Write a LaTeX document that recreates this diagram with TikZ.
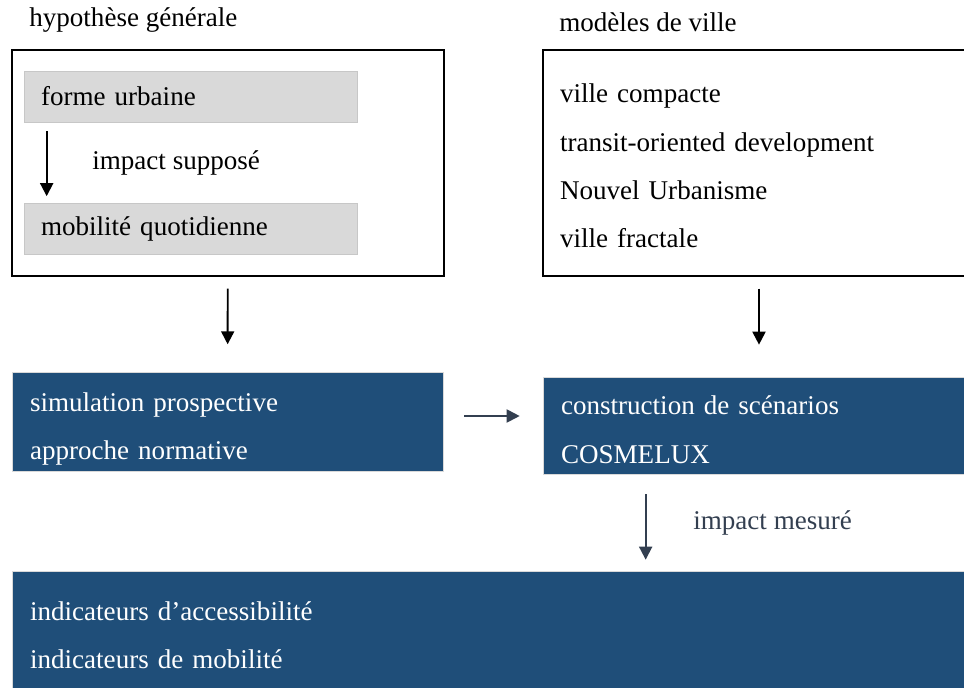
\documentclass[tikz,border=0pt]{standalone}
\usepackage{fontspec}
\setmainfont{Liberation Serif}
\usetikzlibrary{arrows.meta}
\definecolor{boxblue}{HTML}{1F4E79}
\definecolor{boxgrey}{HTML}{D9D9D9}
\definecolor{slate}{HTML}{333F50}

\begin{document}
\begin{tikzpicture}
[
x=0.02cm, y=-0.02cm,
every node/.style={font=\fontsize{15.4}{27.5}\selectfont},
lbl/.style={anchor=west, inner sep=0},
framebox/.style={draw, line width=0.8pt, minimum width=8.64cm, minimum height=4.52cm},
greybox/.style={fill=boxgrey, draw=black!22, line width=0.4pt, text width=5.98cm, inner xsep=0.34cm, minimum height=1.02cm, align=left},
bluebox/.style={fill=boxblue, draw=black!15, line width=0.4pt, text=white, inner xsep=0.36cm, align=left},
arr/.style={line width=1.1pt, -{Triangle[length=0.26cm, width=0.26cm]}},
arrs/.style={arr, draw=slate, fill=slate}
]
\useasboundingbox (0,0) rectangle (964,687);

% hypothese
\node[lbl] (hyptitle) at (29,20) {hypothèse générale};
\node[framebox] (hypo) at (228,163) {};
\node[greybox] (forme) at (190.5,96.5) {forme urbaine};
\node[greybox] (mobil) at (190.5,229) {mobilité quotidienne};
\node[lbl] (suppose) at (92,163) {impact supposé};
\draw[arr] ([shift={(23,9)}]forme.south west) -- ([shift={(23,-7)}]mobil.north west);

% modeles
\node[framebox, text width=7.96cm, inner xsep=0.34cm, align=left, text height=0.5cm] (modeles) at (759,163)
  {ville compacte\\transit-oriented development\\Nouvel Urbanisme\\ville fractale};
\node[lbl] (modtitle) at (559,22) {modèles de ville};

% simulation
\node[bluebox, text width=7.9cm, minimum height=1.96cm, text height=0.66cm] (simul) at (227.5,422)
  {simulation prospective\\approche normative};
\node[bluebox, text width=7.92cm, minimum height=1.94cm, text height=0.54cm] (scen) at (759,425.5)
  {construction de scénarios\\COSMELUX};
\node[bluebox, text width=18.54cm, minimum height=2.58cm] (indic) at (493.5,635.5)
  {indicateurs d’accessibilité\\indicateurs de mobilité};
\node[lbl, text=slate] (mesure) at (693,523) {impact mesuré};

\draw[arr, shorten <=0.24cm, shorten >=0.56cm] (hypo) -- (simul);
\draw[arr, shorten <=0.24cm, shorten >=0.64cm] (modeles) -- (scen);
\draw[arrs, shorten <=0.42cm, shorten >=0.46cm] ([yshift=0.12cm]simul.east) -- ([yshift=0.12cm]simul.east -| scen.west);
\draw[arrs, shorten <=0.4cm, shorten >=0.22cm] ([xshift=2.06cm]scen.south west) -- ([xshift=2.06cm]scen.south west |- indic.north);
\end{tikzpicture}
\end{document}
